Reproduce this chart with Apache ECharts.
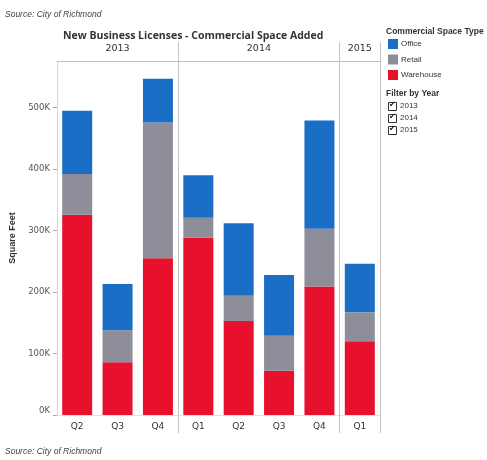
<!DOCTYPE html>
<html>
<head>
<meta charset="utf-8">
<script src="https://cdn.jsdelivr.net/npm/echarts@6/dist/echarts.min.js"></script>
<style>
  html, body { margin: 0; padding: 0; background: #fff; }
  #chart { width: 487px; height: 460px; }
</style>
</head>
<body>
<div id="chart"></div>
<script>
// quarters along the bottom, grouped by year
const quarters = ['Q2', 'Q3', 'Q4', 'Q1', 'Q2', 'Q3', 'Q4', 'Q1'];
const years = ['2013', '2014', '2015'];
const quartersPerYear = [3, 4, 1];

// square feet added
const warehouse = [326000, 86000, 255000, 289000, 153000, 72000, 209000, 120000];
const retail = [66000, 52000, 221000, 32000, 41000, 57000, 94000, 47000];
const office = [103000, 75000, 71000, 69000, 118000, 99000, 176000, 79000];

const yTicks = [0, 100000, 200000, 300000, 400000, 500000];

const colors = { Office: '#1b6ec5', Retail: '#8e8d9a', Warehouse: '#e8112d' };

// index of first quarter of each year after the first, and the year centres
const yearStarts = [];
const yearCenters = {};
let pos = 0;
quartersPerYear.forEach(function (n, i) {
    if (i > 0) yearStarts.push(pos);
    yearCenters[pos + n / 2] = years[i];
    pos += n;
});
const isYearStart = function (idx) { return yearStarts.indexOf(idx) >= 0; };

const sepColor = '#c4c4c4';

const chart = echarts.init(document.getElementById('chart'));

// year filter check boxes on the right
const filterItems = [];
years.forEach(function (y, i) {
    filterItems.push({
        type: 'rect', left: 388, top: 102 + i * 12,
        shape: { width: 8, height: 8 },
        style: { fill: '#fff', stroke: '#333', lineWidth: 1 }
    });
    filterItems.push({
        type: 'text', left: 389, top: 101 + i * 12,
        style: { text: '\u2714', fill: '#222', font: '8px DejaVu Sans' }
    });
    filterItems.push({
        type: 'text', left: 400, top: 102 + i * 12,
        style: { text: y, fill: '#333', font: '8px Liberation Sans' }
    });
});

const option = {
    backgroundColor: '#fff',
    animation: false,
    title: {
        text: 'New Business Licenses - Commercial Space Added',
        left: 58, top: 26,
        textStyle: { fontFamily: 'Open Sans', fontSize: 10.5, fontWeight: 'bold', color: '#333' }
    },
    legend: {
        orient: 'vertical',
        left: 388, top: 39,
        padding: 0,
        icon: 'rect',
        itemWidth: 10, itemHeight: 10, itemGap: 5.5,
        selectedMode: false,
        data: ['Office', 'Retail', 'Warehouse'],
        textStyle: { fontFamily: 'Liberation Sans', fontSize: 8, color: '#333', padding: [0, 0, 0, -2] }
    },
    graphic: [
        { type: 'text', left: 5, top: 10,
          style: { text: 'Source: City of Richmond', fill: '#444', font: 'italic 8.5px Liberation Sans' } },
        { type: 'text', left: 5, top: 447,
          style: { text: 'Source: City of Richmond', fill: '#444', font: 'italic 8.5px Liberation Sans' } },
        { type: 'text', left: 386, top: 27,
          style: { text: 'Commercial Space Type', fill: '#333', font: 'bold 8.5px Liberation Sans' } },
        { type: 'text', left: 386, top: 89,
          style: { text: 'Filter by Year', fill: '#333', font: 'bold 8.5px Liberation Sans' } }
    ].concat(filterItems),
    grid: { left: 57, right: 107, top: 61, bottom: 45 },
    xAxis: [
        {
            type: 'category',
            data: quarters,
            position: 'bottom',
            axisLine: { show: true, lineStyle: { color: '#e0e0e0' } },
            axisTick: { show: true, interval: isYearStart, length: 18, lineStyle: { color: sepColor } },
            splitLine: { show: true, interval: isYearStart, lineStyle: { color: sepColor, width: 1 } },
            axisLabel: { interval: 0, margin: 7, fontFamily: 'DejaVu Sans', fontSize: 9, color: '#333' }
        },
        {
            type: 'value',
            position: 'top',
            min: 0, max: quarters.length, interval: 0.5,
            axisLine: { show: true, lineStyle: { color: '#bdbdbd' } },
            axisTick: { show: false },
            splitLine: { show: false },
            axisLabel: {
                margin: 7, fontFamily: 'DejaVu Sans', fontSize: 9.5, color: '#333',
                formatter: function (v) { return yearCenters[v] || ''; }
            }
        },
        {
            type: 'category',
            data: quarters,
            position: 'top',
            axisLine: { show: false },
            axisTick: { show: true, interval: isYearStart, length: 19, lineStyle: { color: sepColor } },
            axisLabel: { show: false },
            splitLine: { show: false }
        }
    ],
    yAxis: {
        type: 'value',
        min: 0, max: 576000, interval: 100000,
        name: 'Square Feet',
        nameLocation: 'middle',
        nameGap: 37,
        nameTextStyle: { fontFamily: 'Liberation Sans', fontSize: 9, fontWeight: 'bold', color: '#333' },
        axisLine: { show: true, lineStyle: { color: '#cfcfcf', type: 'dotted' } },
        axisTick: { show: true, length: 4, lineStyle: { color: '#aaa' } },
        splitLine: { show: false },
        axisLabel: {
            margin: 7, fontFamily: 'DejaVu Sans', fontSize: 8.5, color: '#555',
            showMaxLabel: false,
            verticalAlignMinLabel: 'bottom',
            formatter: function (v) { return yTicks.indexOf(v) >= 0 ? (v / 1000) + 'K' : ''; }
        }
    },
    series: [
        { name: 'Warehouse', type: 'bar', stack: 'total', barWidth: 30, data: warehouse,
          itemStyle: { color: colors.Warehouse } },
        { name: 'Retail', type: 'bar', stack: 'total', barWidth: 30, data: retail,
          itemStyle: { color: colors.Retail } },
        { name: 'Office', type: 'bar', stack: 'total', barWidth: 30, data: office,
          itemStyle: { color: colors.Office } }
    ]
};

chart.setOption(option);
</script>
</body>
</html>
